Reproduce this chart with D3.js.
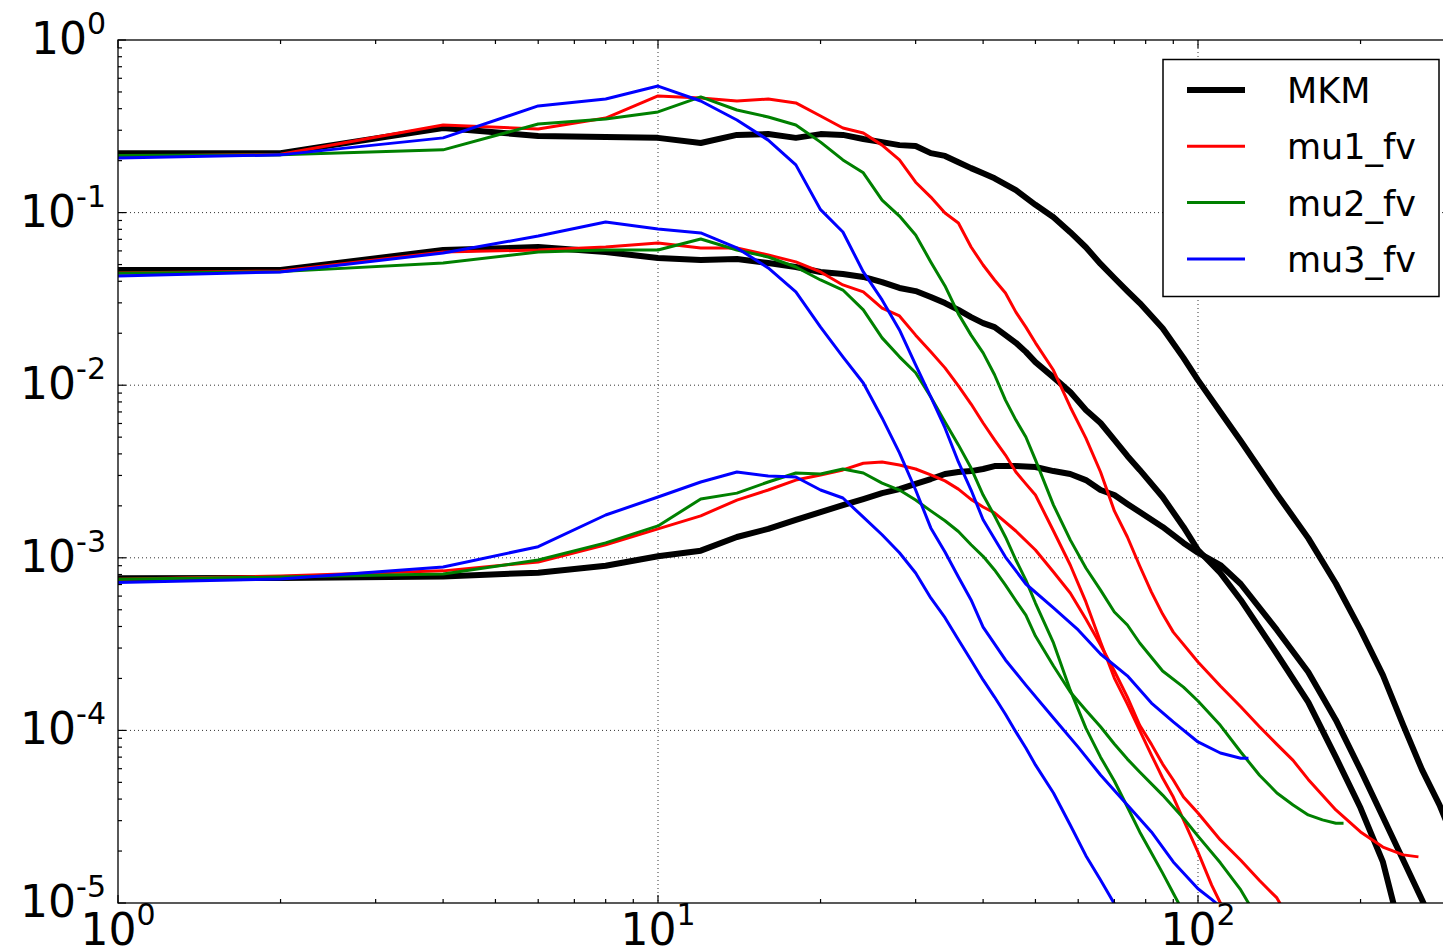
<!DOCTYPE html>
<html>
<head>
<meta charset="utf-8">
<script src="https://cdn.jsdelivr.net/npm/d3@7"></script>
<style>
  body { margin: 0; background: #fff; }
  text { font-family: "DejaVu Sans", sans-serif; fill: #000; }
</style>
</head>
<body>
<svg id="chart" width="1443" height="952"></svg>
<script>
// ---- data: [x, y] pairs, three families of curves ----
const mkmA = [[1,0.221],[2,0.221],[4,0.309],[6,0.278],[8,0.274],[10,0.271],[12,0.253],[14,0.282],[16,0.285],[18,0.271],[20,0.285],[22,0.282],[24,0.267],[26,0.256],[28,0.246],[30,0.243],[32,0.221],[34,0.213],[36,0.196],[38,0.181],[40,0.169],[42,0.158],[46,0.135],[50,0.111],[54,0.094],[58,0.077],[62,0.063],[66,0.0504],[70,0.0418],[74,0.0351],[78,0.0299],[86,0.0214],[94,0.0144],[100,0.0107],[110,0.0070],[120,0.00475],[140,0.00234],[160,0.0013],[180,7.1e-4],[200,3.82e-4],[220,2.09e-4],[240,1.07e-4],[260,5.9e-5],[280,3.7e-5],[300,2.2e-5]];
const mu1A = [[1,0.212],[2,0.218],[4,0.322],[6,0.305],[8,0.353],[10,0.474],[12,0.461],[14,0.443],[16,0.455],[18,0.432],[20,0.363],[22,0.309],[24,0.289],[26,0.246],[28,0.202],[30,0.150],[32,0.123],[34,0.0995],[36,0.0871],[38,0.0632],[40,0.0497],[42,0.0407],[44,0.0342],[46,0.0265],[48,0.0217],[50,0.0176],[54,0.0122],[58,0.00748],[62,0.00494],[66,0.00314],[70,0.00187],[74,0.00132],[78,8.96e-4],[82,6.33e-4],[86,4.72e-4],[90,3.71e-4],[100,2.49e-4],[110,1.81e-4],[120,1.37e-4],[130,1.05e-4],[140,8.3e-5],[150,6.7e-5],[160,5.2e-5],[180,3.46e-5],[200,2.58e-5],[220,2.11e-5],[240,1.9e-5],[256,1.85e-5]];
const mu2A = [[1,0.214],[2,0.216],[4,0.231],[6,0.326],[8,0.349],[10,0.383],[12,0.468],[14,0.393],[16,0.358],[18,0.322],[20,0.256],[22,0.202],[24,0.170],[26,0.118],[28,0.0955],[30,0.0741],[32,0.0518],[34,0.0376],[36,0.0259],[38,0.0195],[40,0.0154],[42,0.0115],[44,0.0082],[46,0.00628],[48,0.00501],[50,0.00369],[54,0.00202],[58,0.00127],[62,8.73e-4],[66,6.5e-4],[70,4.85e-4],[74,4.08e-4],[78,3.21e-4],[86,2.21e-4],[94,1.78e-4],[100,1.48e-4],[110,1.07e-4],[120,7.5e-5],[130,5.5e-5],[140,4.34e-5],[150,3.7e-5],[160,3.24e-5],[170,3.03e-5],[180,2.9e-5],[186,2.9e-5]];
const mu3A = [[1,0.207],[2,0.216],[4,0.271],[6,0.415],[8,0.455],[10,0.541],[12,0.443],[14,0.344],[16,0.263],[18,0.189],[20,0.104],[22,0.0772],[24,0.0453],[26,0.0312],[28,0.0209],[30,0.0131],[32,0.00855],[34,0.00565],[36,0.00359],[38,0.00247],[40,0.00166],[44,1.01e-3],[48,7.05e-4],[54,5.12e-4],[60,3.82e-4],[66,2.77e-4],[74,2.07e-4],[82,1.44e-4],[90,1.12e-4],[100,8.57e-5],[110,7.4e-5],[120,6.9e-5],[124,6.9e-5]];

const mkmB = [[1,0.0465],[2,0.0465],[4,0.0607],[6,0.0632],[8,0.0591],[10,0.0546],[12,0.0531],[14,0.0538],[16,0.0510],[18,0.0484],[20,0.0453],[22,0.0441],[24,0.0424],[26,0.0396],[28,0.0366],[30,0.0351],[32,0.0324],[34,0.0299],[36,0.0273],[38,0.0248],[40,0.0229],[42,0.0217],[44,0.0195],[46,0.0176],[48,0.0156],[50,0.0136],[54,0.0111],[58,0.00914],[62,0.00718],[66,0.00604],[70,0.00482],[74,0.00389],[78,0.00323],[86,0.00225],[94,0.00151],[100,0.00111],[110,8.17e-4],[120,5.7e-4],[140,2.77e-4],[160,1.46e-4],[180,7.0e-5],[200,3.55e-5],[220,1.73e-5],[232,9e-6]];
const mu1B = [[1,0.0447],[2,0.0459],[4,0.0591],[6,0.0607],[8,0.0632],[10,0.0667],[12,0.0624],[14,0.0624],[16,0.0568],[18,0.0518],[20,0.0453],[22,0.0381],[24,0.0347],[26,0.0280],[28,0.0252],[30,0.0195],[32,0.0156],[34,0.0126],[36,0.0099],[38,0.00778],[40,0.00604],[42,0.00482],[44,0.00394],[46,0.00314],[48,0.00268],[50,0.00231],[54,0.00143],[58,9.08e-4],[62,5.55e-4],[66,3.25e-4],[70,2.01e-4],[74,1.42e-4],[78,1.0e-4],[82,7.2e-5],[86,5.3e-5],[90,4.11e-5],[94,3.03e-5],[100,1.97e-5],[106,1.27e-5],[110,1.0e-5],[114,8e-6]];
const mu2B = [[1,0.0445],[2,0.0455],[4,0.0510],[6,0.0591],[8,0.0607],[10,0.0607],[12,0.0703],[14,0.0607],[16,0.0553],[18,0.0484],[20,0.0407],[22,0.0356],[24,0.0273],[26,0.0188],[28,0.0146],[30,0.0118],[32,0.00855],[34,0.00612],[36,0.00451],[38,0.00331],[40,0.00231],[42,0.00175],[44,0.00132],[46,9.71e-4],[48,7.43e-4],[50,5.47e-4],[54,3.21e-4],[58,1.71e-4],[62,1.03e-4],[66,7.0e-5],[70,5.09e-5],[74,3.6e-5],[78,2.58e-5],[82,1.95e-5],[86,1.49e-5],[90,1.14e-5],[92,1.0e-5],[96,8e-6]];
const mu3B = [[1,0.0429],[2,0.0453],[4,0.0583],[6,0.0732],[8,0.0883],[10,0.0804],[12,0.0762],[14,0.0624],[16,0.0478],[18,0.0347],[20,0.0217],[22,0.0146],[24,0.0103],[26,0.00646],[28,0.00405],[30,0.00247],[32,0.00149],[34,0.00108],[36,7.74e-4],[38,5.7e-4],[40,3.97e-4],[44,2.56e-4],[48,1.83e-4],[54,1.18e-4],[60,8.0e-5],[66,5.52e-5],[74,3.7e-5],[82,2.58e-5],[90,1.73e-5],[100,1.21e-5],[106,1.05e-5],[110,9.5e-6]];

const mkmC = [[1,7.6e-4],[2,7.65e-4],[4,7.8e-4],[6,8.2e-4],[8,9.0e-4],[10,1.02e-3],[12,1.10e-3],[14,1.32e-3],[16,1.47e-3],[18,1.66e-3],[20,1.84e-3],[22,2.02e-3],[24,2.19e-3],[26,2.37e-3],[28,2.5e-3],[30,2.68e-3],[32,2.86e-3],[34,3.06e-3],[36,3.14e-3],[38,3.18e-3],[40,3.27e-3],[42,3.4e-3],[46,3.4e-3],[50,3.36e-3],[54,3.18e-3],[58,3.06e-3],[62,2.82e-3],[66,2.47e-3],[70,2.31e-3],[74,2.05e-3],[78,1.84e-3],[86,1.51e-3],[94,1.22e-3],[100,1.07e-3],[110,9.08e-4],[120,7.05e-4],[140,3.82e-4],[160,2.18e-4],[180,1.15e-4],[200,5.9e-5],[220,3.15e-5],[240,1.77e-5],[260,1.04e-5],[270,8e-6]];
const mu1C = [[1,7.5e-4],[2,7.84e-4],[4,8.4e-4],[6,9.46e-4],[8,1.19e-3],[10,1.47e-3],[12,1.75e-3],[14,2.16e-3],[16,2.47e-3],[18,2.82e-3],[20,3.02e-3],[22,3.23e-3],[24,3.53e-3],[26,3.59e-3],[28,3.45e-3],[30,3.27e-3],[32,3.02e-3],[34,2.79e-3],[36,2.5e-3],[38,2.18e-3],[40,1.97e-3],[42,1.82e-3],[46,1.43e-3],[50,1.11e-3],[54,8.27e-4],[58,6.25e-4],[62,4.42e-4],[66,3.12e-4],[70,2.21e-4],[74,1.56e-4],[78,1.07e-4],[82,8.3e-5],[86,6.38e-5],[90,5.16e-5],[94,4.11e-5],[100,3.32e-5],[110,2.32e-5],[120,1.77e-5],[130,1.35e-5],[140,1.07e-5],[146,8.5e-6]];
const mu2C = [[1,7.5e-4],[2,7.74e-4],[4,8.05e-4],[6,9.71e-4],[8,1.22e-3],[10,1.53e-3],[12,2.19e-3],[14,2.37e-3],[16,2.75e-3],[18,3.1e-3],[20,3.06e-3],[22,3.27e-3],[24,3.1e-3],[26,2.71e-3],[28,2.47e-3],[30,2.16e-3],[32,1.87e-3],[34,1.64e-3],[36,1.42e-3],[38,1.19e-3],[40,1.02e-3],[42,8.5e-4],[44,6.95e-4],[46,5.64e-4],[48,4.66e-4],[50,3.52e-4],[54,2.36e-4],[58,1.67e-4],[62,1.31e-4],[66,1.05e-4],[70,8.34e-5],[74,6.82e-5],[78,5.74e-5],[86,4.22e-5],[94,3.1e-5],[100,2.44e-5],[110,1.71e-5],[120,1.19e-5],[124,1.0e-5],[128,8.5e-6]];
const mu3C = [[1,7.2e-4],[2,7.54e-4],[4,8.85e-4],[6,1.16e-3],[8,1.77e-3],[10,2.25e-3],[12,2.75e-3],[14,3.14e-3],[16,2.98e-3],[18,2.94e-3],[20,2.47e-3],[22,2.22e-3],[24,1.72e-3],[26,1.36e-3],[28,1.07e-3],[30,8.17e-4],[32,5.85e-4],[34,4.5e-4],[36,3.35e-4],[38,2.55e-4],[40,1.96e-4],[42,1.56e-4],[44,1.24e-4],[46,9.8e-5],[48,7.91e-5],[50,6.31e-5],[54,4.34e-5],[58,2.83e-5],[62,1.88e-5],[66,1.36e-5],[70,9.9e-6],[72,8.5e-6]];

const legendLabels = ["MKM", "mu1_fv", "mu2_fv", "mu3_fv"];
const seriesColors = ["#000000", "#ff0000", "#008000", "#0000ff"];
const xMajor = [1, 10, 100];
const yMajor = [1, 1e-1, 1e-2, 1e-3, 1e-4, 1e-5];
const xDomain = [1, 300],
	yDomain = [1e-5, 1];

// ---- layout ----
const plotLeft = 118,
	plotTop = 40,
	plotBottom = 903,
	decade = 540;
const plotRight = plotLeft + decade * Math.log10(xDomain[1]);

const xScale = d3.scaleLog().domain(xDomain).range([plotLeft, plotRight]);
const yScale = d3.scaleLog().domain(yDomain).range([plotBottom, plotTop]);

const series = [
	{label: legendLabels[0], color: seriesColors[0], width: 6, curves: [mkmA, mkmB, mkmC]},
	{label: legendLabels[1], color: seriesColors[1], width: 3, curves: [mu1A, mu1B, mu1C]},
	{label: legendLabels[2], color: seriesColors[2], width: 3, curves: [mu2A, mu2B, mu2C]},
	{label: legendLabels[3], color: seriesColors[3], width: 3, curves: [mu3A, mu3B, mu3C]}
];

const svg = d3.select("#chart");

svg.append("defs").append("clipPath")
	.attr("id", "plotclip")
	.append("rect")
	.attr("x", plotLeft).attr("y", plotTop)
	.attr("width", plotRight - plotLeft).attr("height", plotBottom - plotTop);

// grid
const grid = svg.append("g")
	.attr("stroke", "#333")
	.attr("stroke-width", 1)
	.attr("stroke-dasharray", "1,3");

grid.selectAll("line.gx")
	.data(xMajor.filter(d => d > xDomain[0]))
	.join("line")
	.attr("class", "gx")
	.attr("x1", d => xScale(d)).attr("x2", d => xScale(d))
	.attr("y1", plotTop).attr("y2", plotBottom);

grid.selectAll("line.gy")
	.data(yMajor.filter(d => d > yDomain[0] && d < yDomain[1]))
	.join("line")
	.attr("class", "gy")
	.attr("x1", plotLeft).attr("x2", plotRight)
	.attr("y1", d => yScale(d)).attr("y2", d => yScale(d));

// curves
const line = d3.line()
	.x(d => xScale(d[0]))
	.y(d => yScale(d[1]));

const curves = svg.append("g").attr("clip-path", "url(#plotclip)");

series.forEach(s => {
	curves.append("g")
		.selectAll("path")
		.data(s.curves)
		.join("path")
		.attr("fill", "none")
		.attr("stroke", s.color)
		.attr("stroke-width", s.width)
		.attr("stroke-linejoin", "round")
		.attr("d", line);
});

// minor tick positions on the log axes
function minors(domain) {
	const out = [];
	for (let e = Math.floor(Math.log10(domain[0])); e <= Math.ceil(Math.log10(domain[1])); e++) {
		for (let m = 2; m <= 9; m++) {
			const v = m * Math.pow(10, e);
			if (v > domain[0] && v < domain[1]) out.push(v);
		}
	}
	return out;
}

const ticks = svg.append("g").attr("stroke", "#000").attr("stroke-width", 1.2);

[[xMajor, 8], [minors(xDomain), 4]].forEach(([vals, len]) => {
	vals.forEach(v => {
		const px = xScale(v);
		ticks.append("line").attr("x1", px).attr("x2", px).attr("y1", plotBottom).attr("y2", plotBottom - len);
		ticks.append("line").attr("x1", px).attr("x2", px).attr("y1", plotTop).attr("y2", plotTop + len);
	});
});

[[yMajor, 8], [minors(yDomain), 4]].forEach(([vals, len]) => {
	vals.forEach(v => {
		const py = yScale(v);
		ticks.append("line").attr("x1", plotLeft).attr("x2", plotLeft + len).attr("y1", py).attr("y2", py);
	});
});

// spines
svg.append("rect")
	.attr("x", plotLeft).attr("y", plotTop)
	.attr("width", plotRight - plotLeft).attr("height", plotBottom - plotTop)
	.attr("fill", "none")
	.attr("stroke", "#000")
	.attr("stroke-width", 1.3);

// tick labels: 10 with a superscript exponent
function powerLabel(sel, v) {
	const exp = Math.round(Math.log10(v));
	sel.append("tspan").text("10");
	sel.append("tspan")
		.attr("dy", -20)
		.attr("font-size", 30)
		.text(exp < 0 ? "-" + (-exp) : String(exp));
}

svg.append("g").selectAll("text")
	.data(yMajor)
	.join("text")
	.attr("x", plotLeft - 12)
	.attr("y", d => yScale(d) + 14)
	.attr("text-anchor", "end")
	.attr("font-size", 44)
	.each(function(d) { powerLabel(d3.select(this), d); });

svg.append("g").selectAll("text")
	.data(xMajor)
	.join("text")
	.attr("x", d => xScale(d))
	.attr("y", plotBottom + 42)
	.attr("text-anchor", "middle")
	.attr("font-size", 44)
	.each(function(d) { powerLabel(d3.select(this), d); });

// legend
const legend = svg.append("g");
legend.append("rect")
	.attr("x", 1163).attr("y", 59.5)
	.attr("width", 276).attr("height", 237)
	.attr("fill", "#fff")
	.attr("stroke", "#000")
	.attr("stroke-width", 1.5);

const items = legend.selectAll("g.item")
	.data(series)
	.join("g")
	.attr("class", "item")
	.attr("transform", (d, i) => `translate(0, ${90 + i * 56.3})`);

items.append("line")
	.attr("x1", 1187).attr("x2", 1245)
	.attr("stroke", d => d.color)
	.attr("stroke-width", d => d.width);

items.append("text")
	.attr("x", 1287)
	.attr("y", 13)
	.attr("font-size", 35)
	.text(d => d.label);
</script>
</body>
</html>
